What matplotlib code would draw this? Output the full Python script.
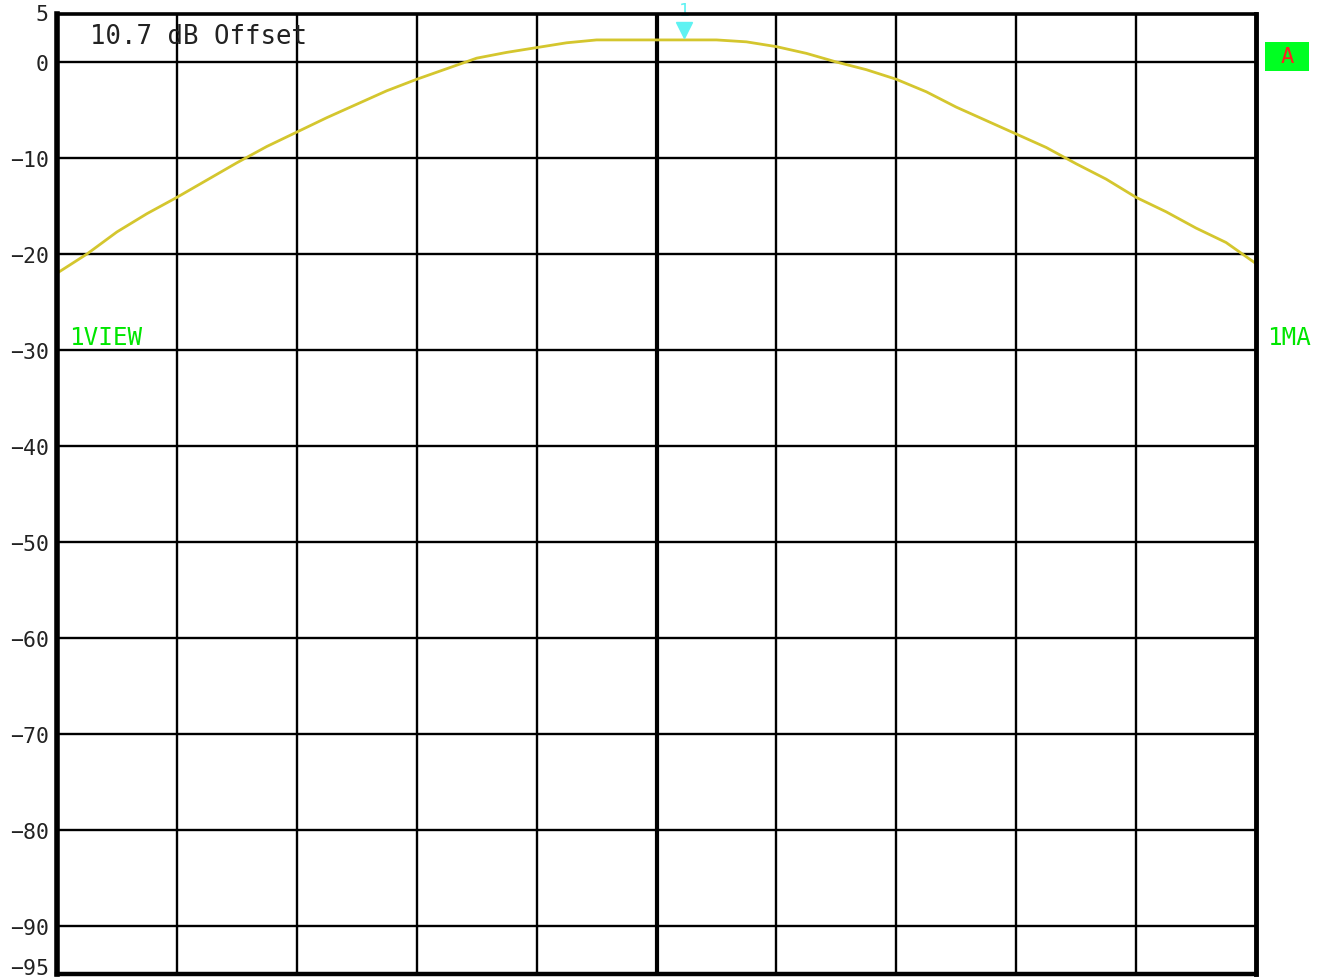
import matplotlib
matplotlib.use("Agg")
import matplotlib.pyplot as plt
from matplotlib.patches import Rectangle

# ---- data ----
x_div = [i * 0.25 for i in range(41)]
level_db = [-22.0, -20.0, -17.7, -15.8, -14.1, -12.3, -10.5, -8.8, -7.3, -5.8,
            -4.4, -3.0, -1.8, -0.7, 0.4, 1.0, 1.5, 2.0, 2.3, 2.3,
            2.3, 2.3, 2.3, 2.1, 1.6, 0.9, 0.0, -0.8, -1.8, -3.1,
            -4.7, -6.1, -7.5, -8.9, -10.6, -12.2, -14.1, -15.6, -17.3, -18.8,
            -21.0]
ytick_vals = [5, 0, -10, -20, -30, -40, -50, -60, -70, -80, -90, -95]
ytick_labels = ["5", "0", "\u221210", "\u221220", "\u221230", "\u221240", "\u221250",
                "\u221260", "\u221270", "\u221280", "\u221290", "\u221295"]
marker_x = 5.23
marker_y = 3.3
offset_text = "10.7 dB Offset"

W, H = 1329, 979
fig = plt.figure(figsize=(W / 100, H / 100), dpi=100)
fig.patch.set_facecolor("white")
ax = fig.add_axes([57 / W, 1 - 975 / H, (1256 - 57) / W, (975 - 15) / H])
ax.set_facecolor("white")
ax.set_xlim(0, 10)
ax.set_ylim(-95, 5)

# grid
for gx in range(1, 10):
    ax.axvline(gx, color="black", lw=3.0 if gx == 5 else 1.7, zorder=1)
for gy in range(0, -91, -10):
    ax.axhline(gy, color="black", lw=1.7, zorder=1)

for side, lw in [("left", 4.0), ("right", 3.5), ("bottom", 3.2), ("top", 2.6)]:
    ax.spines[side].set_linewidth(lw)
    ax.spines[side].set_color("black")
    ax.spines[side].set_zorder(5)

ax.set_xticks([])
ax.set_yticks(ytick_vals)
ax.set_yticklabels(ytick_labels, family="DejaVu Sans Mono", fontsize=15.5,
                   color="#222222")
ax.tick_params(axis="y", length=0, pad=6)
labels = ax.get_yticklabels()
labels[-1].set_verticalalignment("baseline")
labels[0].set_verticalalignment("center")

# trace
ax.plot(x_div, level_db, color="#d4c62e", lw=2.0, zorder=3)

# marker
ax.plot([marker_x], [marker_y], marker="v", markersize=11, color="#5ef2f2",
        zorder=4, clip_on=False)
ax.text(marker_x, 4.5, "1", color="#5ef2f2", fontsize=13, ha="center",
        va="bottom", family="DejaVu Sans Mono", clip_on=False)

# annotations
fig.text(90 / W, 1 - 37 / H, offset_text, family="DejaVu Sans Mono",
         fontsize=18.5, color="#222222", ha="left", va="center")
fig.text(69 / W, 1 - 338 / H, "1VIEW", family="DejaVu Sans Mono",
         fontsize=17.5, color="#00e600", ha="left", va="center")
fig.text(1267 / W, 1 - 338 / H, "1MA", family="DejaVu Sans Mono",
         fontsize=17.5, color="#00e600", ha="left", va="center")
fig.patches.append(Rectangle((1265 / W, 1 - 72 / H), 44 / W, 29 / H,
                             transform=fig.transFigure, facecolor="#00ff22",
                             edgecolor="none"))
fig.text(1287 / W, 1 - 57 / H, "A", family="DejaVu Sans Mono",
         fontsize=16, color="#ff2020", ha="center", va="center")

fig.savefig("out.png", dpi=100)
